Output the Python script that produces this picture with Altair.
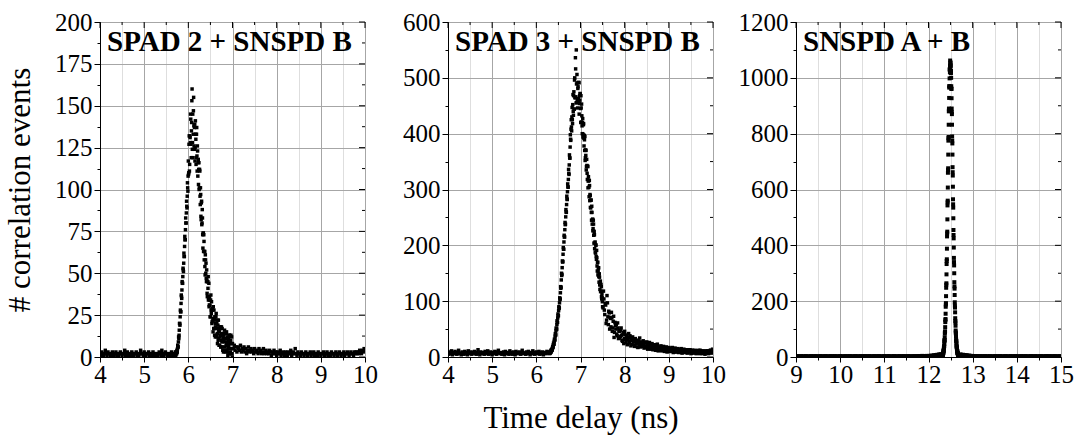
import altair as alt
import pandas as pd

FONT = "Liberation Serif"

# ---------------- Panel 1 : SPAD 2 + SNSPD B ----------------
p1_base_start, p1_base_step = 4.00, 0.02
p1_base = [2,1,3,2,1,2,4,2,1,3, 2,2,1,2,3,1,2,2,3,1,
           2,1,2,3,2,1,2,2,4,1, 2,3,1,2,2,1,3,2,1,2,
           2,3,1,2,1,2,4,2,2,1, 3,2,1,2,2,3,1,2,2,1,
           3,2,1,2,2,1,2,3,2,1, 4,2,1,2,3,2,1,2,2,1,
           2,3,1,2,2]
p1_peak_a_start, p1_peak_a_step = 5.70, 0.01
p1_peak_a = [1,3,2,2,4,3,7,6,12,13,
             20,19,28,27,37,35,45,44,53,51,
             62,60,72,70,83,80,93,89,104,99,
             117,110,132,115,131,145,127,135,153,124,
             145,133,155,126,137,117,141,130,119,137,
             111,123,116,103,116,101,111,91,97,82,
             93,80,83,65,74,73,58,63,49,58,
             56,45,46,36,45,48,35,30,36,31,
             24,37,26,28,21,29,15,23,28,17,
             24,12,20,26,13,17,8,19,22,11,
             15,7,17,13,6,18,9,13,4,14,
             10,4,16,6,11,4,14,8,3,12,
             5,10,2,13,8,3,10,5,12,2,
             8]
p1_peak_b_start, p1_peak_b_step = 5.705, 0.01
p1_peak_b = [2,1,3,2,3,5,6,9,11,16,
             20,24,27,32,36,40,44,48,52,56,
             60,66,70,76,80,86,90,96,101,108,
             109,127,111,132,128,142,119,140,160,128,
             119,147,138,124,139,125,133,115,133,120,
             126,108,118,112,100,112,96,101,84,92,
             79,88,73,74,63,69,63,54,61,50,
             47,52,38,45,41,34,44,31,34,24,
             34,28,33,20,28,22,30,17,23,13,
             22,18,24,12,20,14,22,10,16,7,
             17,12,18,6,14,10,17,6,11,3,
             13,9,14,3,11,7,15,4,9,1,
             11,7,13,2,9,5,13,2,8,0]
p1_tail_start, p1_tail_step = 7.02, 0.02
p1_tail = [5,7,4,6,3,6,5,4,7,3, 5,4,6,3,5,2,4,6,3,4,
           5,3,4,2,5,3,4,3,2,5, 3,4,2,3,5,2,3,4,2,3,
           2,4,3,1,3,2,4,2,3,1, 3,2,2,4,1,2,3,2,1,3,
           2,1,3,2,2,4,1,2,3,2, 5,2,1,3,2,2,1,3,2,2,
           1,2,3,2,1,2,2,3,1,2, 2,3,1,2,2,1,3,2,2,1,
           2,2,3,1,2,2,3,1,2,2, 1,3,2,2,1,2,3,2,1,2,
           3,2,1,2,2,3,1,2,2,3, 2,1,2,3,2,2,1,3,2,3,
           2,3,2,4,3,2,4,3,5,4]

# ---------------- Panel 2 : SPAD 3 + SNSPD B ----------------
p2_base_start, p2_base_step = 4.00, 0.02
p2_base = [7,5,9,6,11,4,8,6,10,7, 5,8,12,6,7,4,9,7,5,10,
           6,8,4,11,7,6,9,5,8,7, 10,6,5,8,13,7,4,9,6,8,
           7,5,10,6,8,11,5,7,9,6, 4,8,7,10,6,5,9,12,7,6,
           8,5,7,9,4,10,6,8,7,5, 11,6,8,5,9,7,4,10,6,8,
           7,9,5,6,12,8,6,7,5,9, 6,10,7,4,8,6,11,7,5,8,
           9,6,7,10,5,8,6,9,4,7, 8,6,10,7,9]
p2_peak_a_start, p2_peak_a_step = 6.30, 0.01
p2_peak_a = [6,9,8,12,10,14,13,19,18,25,
             23,32,31,42,40,52,50,65,62,77,
             74,90,88,106,104,126,125,150,148,172,
             171,196,193,218,215,241,238,264,259,288,
             282,310,304,336,327,362,356,398,388,425,
             405,447,418,470,433,475,444,500,464,516,
             455,489,506,459,481,463,492,435,468,472,
             445,468,421,432,400,427,399,418,378,389,
             395,357,361,335,354,329,342,303,323,304,
             316,280,289,267,281,245,259,246,226,245,
             218,225,194,206,186,200,175,178,154,170,
             153,160,134,143,121,136,118,126,104,107,
             90]
p2_peak_b_start, p2_peak_b_step = 6.305, 0.01
p2_peak_b = [8,7,10,9,13,12,16,17,22,23,
             28,30,37,39,47,50,58,62,70,74,
             83,87,97,103,115,123,138,146,160,170,
             184,193,206,215,228,237,251,260,273,283,
             296,305,318,329,344,357,376,390,408,412,
             430,425,452,440,468,444,496,465,536,466,
             550,456,491,446,484,457,491,454,460,471,
             420,446,453,414,420,394,416,392,397,370,
             352,371,370,341,343,318,341,315,317,287,
             307,291,268,281,259,270,238,247,230,238,
             204,219,204,188,201,180,191,163,169,147,
             159,144,149,129,133,117,130,108,114,99]
p2_tail_a_start, p2_tail_a_step = 7.52, 0.02
p2_tail_a = [118,84,96,60,110,72,82,50,69,80, 46,64,35,62,50,41,61,33,46,37,
             52,30,41,24,46,31,38,22,35,28, 38,20,31,36,27,
             19,33,24,30,17,27,34,18,26,22, 29,16,25,19,27,14,22,26,15,20,
             24,13,19,22,12,18,23,11,17,15, 20,11,16,19,10,15,18,9,14,17,
             10,15,12,17,8,13,16,9,12,15, 8,13,11,15,7,12,14,8,11,13,
             7,12,10,13,6,11,12,7,10,12, 6,11,9,12,6,10,11,6,9,11,
             5,10,8,11,6,9,12,7,10,13]
p2_tail_b_start, p2_tail_b_step = 7.51, 0.02
p2_tail_b = [88,104,76,93,66,97,58,79,71,54, 70,52,73,44,56,58,38,52,47,34,
             48,39,28,44,33,40,26,37,31,42, 25,34,29,22,31,
             28,21,30,25,18,29,23,20,27,19, 24,21,17,26,18,23,16,21,24,14,
             21,17,14,20,16,13,19,15,12,18, 14,17,12,16,13,11,17,12,15,10,
             14,11,16,10,13,12,9,14,11,13, 9,12,14,10,8,13,11,9,12,10,
             8,11,13,9,10,7,12,10,8,11, 9,7,11,10,8,12,7,9,10,8,
             10,7,9,11,8,10,9,12,8,14]

# ---------------- Panel 3 : SNSPD A + B ----------------
p3_base_start, p3_base_step = 9.00, 0.02
p3_base = [2,1,3,2,1,2,3,1,2,2, 1,3,2,2,1,2,1,3,2,1, 2,2,3,1,2,1,2,2,3,1,
           2,1,2,3,2,1,2,2,1,3, 2,2,1,2,3,1,2,2,1,2, 3,1,2,2,1,2,3,2,1,2,
           2,3,1,2,2,1,2,3,2,1, 2,2,1,3,2,2,1,2,3,2, 1,2,2,3,1,2,2,1,2,3,
           2,1,2,2,3,1,2,2,1,2, 3,2,1,2,2,3,1,2,2,1, 2,3,2,1,2,2,1,3,2,2,
           1,2,3,2,1,2,2,3,1,2, 2,2,1,2,3,2,1,2,3,2, 3,2,2,4,2,3,3,2,4,3,
           3,4,3,5,4,4,6,5,7,6, 8,7,9,8,10]
p3_peak_a_start, p3_peak_a_step = 12.30, 0.005
p3_peak_a = [3,2,5,4,8,8,13,14,22,24,
             35,39,56,61,85,92,125,136,180,193,
             248,264,333,350,432,449,543,560,660,676,
             775,788,880,890,965,970,1030,1020,1062,1040,
             1055,1018,1025,970,960,890,870,790,765,680,
             650,565,535,455,425,355,328,268,245,196,
             177,139,124,95,84,63,56,41,35,26,
             22,16,14,10,9,6,6,4,4,3,
             3]
p3_peak_b_start, p3_peak_b_step = 12.3025, 0.005
p3_peak_b = [2,4,3,7,9,11,13,18,23,30,
             37,46,59,71,89,107,132,155,188,218,
             259,296,344,388,443,493,554,607,670,725,
             784,832,887,928,970,998,1030,1043,1052,1046,
             1042,1017,1000,962,927,878,832,775,725,662,
             610,547,497,437,392,340,300,253,222,184,
             160,129,112,88,74,58,49,37,31,23,
             20,14,13,8,8,5,5,3,4,2]
p3_tail_start, p3_tail_step = 12.72, 0.02
p3_tail = [9,8,7,8,6,7,5,6,5,4, 5,4,3,4,3,3,2,3,2,3,
           2,1,2,3,2,1,2,2,3,1, 2,2,1,3,2,1,2,2,1,2,
           3,2,1,2,2,3,1,2,2,1, 2,3,2,1,2,2,1,3,2,2,
           1,2,3,2,1,2,2,1,2,3, 2,1,2,2,3,1,2,2,1,2,
           3,2,2,1,2,3,1,2,2,1, 2,2,3,1,2,1,2,3,2,2,
           1,3,2,2,1,2,2,3,1,2, 2,2,1,3,2]

titles = ["SPAD 2 + SNSPD B", "SPAD 3 + SNSPD B", "SNSPD A + B"]
x_domains = [[4, 10], [4, 10], [9, 15]]
y_domains = [[0, 200], [0, 600], [0, 1200]]
y_steps = [25, 100, 200]
x_title = "Time delay (ns)"
y_title = "# correlation events"


def seg(start, step, ys):
    return [(round(start + i * step, 4), y) for i, y in enumerate(ys)]


def frame(*segs):
    rows = []
    for s in segs:
        rows.extend(seg(*s))
    return pd.DataFrame(rows, columns=["x", "y"])


d1 = frame((p1_base_start, p1_base_step, p1_base), (p1_peak_a_start, p1_peak_a_step, p1_peak_a),
           (p1_peak_b_start, p1_peak_b_step, p1_peak_b), (p1_tail_start, p1_tail_step, p1_tail))
d2 = frame((p2_base_start, p2_base_step, p2_base), (p2_peak_a_start, p2_peak_a_step, p2_peak_a),
           (p2_peak_b_start, p2_peak_b_step, p2_peak_b), (p2_tail_a_start, p2_tail_a_step, p2_tail_a),
           (p2_tail_b_start, p2_tail_b_step, p2_tail_b))
d3 = frame((p3_base_start, p3_base_step, p3_base), (p3_peak_a_start, p3_peak_a_step, p3_peak_a),
           (p3_peak_b_start, p3_peak_b_step, p3_peak_b), (p3_tail_start, p3_tail_step, p3_tail))

W, H = 265, 335


def panel(df, idx, size):
    xd, yd, ys = x_domains[idx], y_domains[idx], y_steps[idx]
    xvals = [xd[0] + 0.5 * i for i in range(int((xd[1] - xd[0]) * 2) + 1)]
    yvals = [yd[0] + ys / 2 * i for i in range(int((yd[1] - yd[0]) / (ys / 2)) + 1)]
    xmaj = "datum.value % 1 === 0"
    ymaj = f"datum.value % {ys} === 0"
    x_axis = alt.Axis(
        values=xvals,
        labelExpr=f"{xmaj} ? format(datum.value, 'd') : ''",
        gridColor={"condition": {"test": xmaj, "value": "#a6a6a6"}, "value": "#dedede"},
        tickSize={"condition": {"test": xmaj, "value": 5}, "value": 3},
        labelOverlap=False, labelFlush=False, labelPadding=0,
        titlePadding=16,
    )
    y_axis = alt.Axis(
        values=yvals,
        labelExpr=f"{ymaj} ? format(datum.value, 'd') : ''",
        gridColor="#a6a6a6",
        gridOpacity={"condition": {"test": ymaj, "value": 1}, "value": 0},
        tickSize={"condition": {"test": ymaj, "value": 6}, "value": 3},
        labelOverlap=False, labelFlush=False, labelPadding=2,
        titlePadding=18,
    )
    xt = x_title if idx == 1 else None
    yt = y_title if idx == 0 else None
    xs = alt.Scale(domain=xd, nice=False, zero=False)
    yscale = alt.Scale(domain=yd, nice=False, zero=False)

    pts = alt.Chart(df).mark_square(size=size, color="black", opacity=1, clip=True).encode(
        x=alt.X("x:Q", scale=xs, axis=x_axis, title=xt),
        y=alt.Y("y:Q", scale=yscale, axis=y_axis, title=yt),
    )
    tx = pd.DataFrame({"x": xvals, "maj": [v % 1 == 0 for v in xvals]})
    ty = pd.DataFrame({"y": yvals, "maj": [v % ys == 0 for v in yvals]})
    top_maj = alt.Chart(tx[tx.maj]).mark_rule(color="black").encode(
        x=alt.X("x:Q", scale=xs, axis=x_axis, title=xt), y=alt.value(0), y2=alt.value(6))
    top_min = alt.Chart(tx[~tx.maj]).mark_rule(color="black").encode(
        x=alt.X("x:Q", scale=xs, axis=x_axis, title=xt), y=alt.value(0), y2=alt.value(3))
    r_maj = alt.Chart(ty[ty.maj]).mark_rule(color="black").encode(
        y=alt.Y("y:Q", scale=yscale, axis=y_axis, title=yt), x=alt.value(W), x2=alt.value(W - 6))
    r_min = alt.Chart(ty[~ty.maj]).mark_rule(color="black").encode(
        y=alt.Y("y:Q", scale=yscale, axis=y_axis, title=yt), x=alt.value(W), x2=alt.value(W - 3))
    lab = alt.Chart(pd.DataFrame({"t": [titles[idx]]})).mark_text(
        align="left", baseline="alphabetic", font=FONT, fontSize=29, fontWeight="bold", color="black"
    ).encode(x=alt.value(7), y=alt.value(29), text="t:N")
    return alt.layer(pts, top_maj, top_min, r_maj, r_min, lab).properties(width=W, height=H)


chart = alt.hconcat(panel(d1, 0, 12), panel(d2, 1, 12), panel(d3, 2, 16),
                    spacing=83, bounds="flush").properties(
    padding={"left": 4, "top": 9, "right": 5, "bottom": 5}, background="white"
).configure_view(stroke="black", strokeWidth=1).configure_axis(
    labelFont=FONT, labelFontSize=25, labelColor="black",
    titleFont=FONT, titleFontSize=31, titleFontWeight="normal", titleColor="black",
    domainColor="black", tickColor="black", gridWidth=1,
)

chart.save("out.html", embed_options={"renderer": "svg", "actions": False})
